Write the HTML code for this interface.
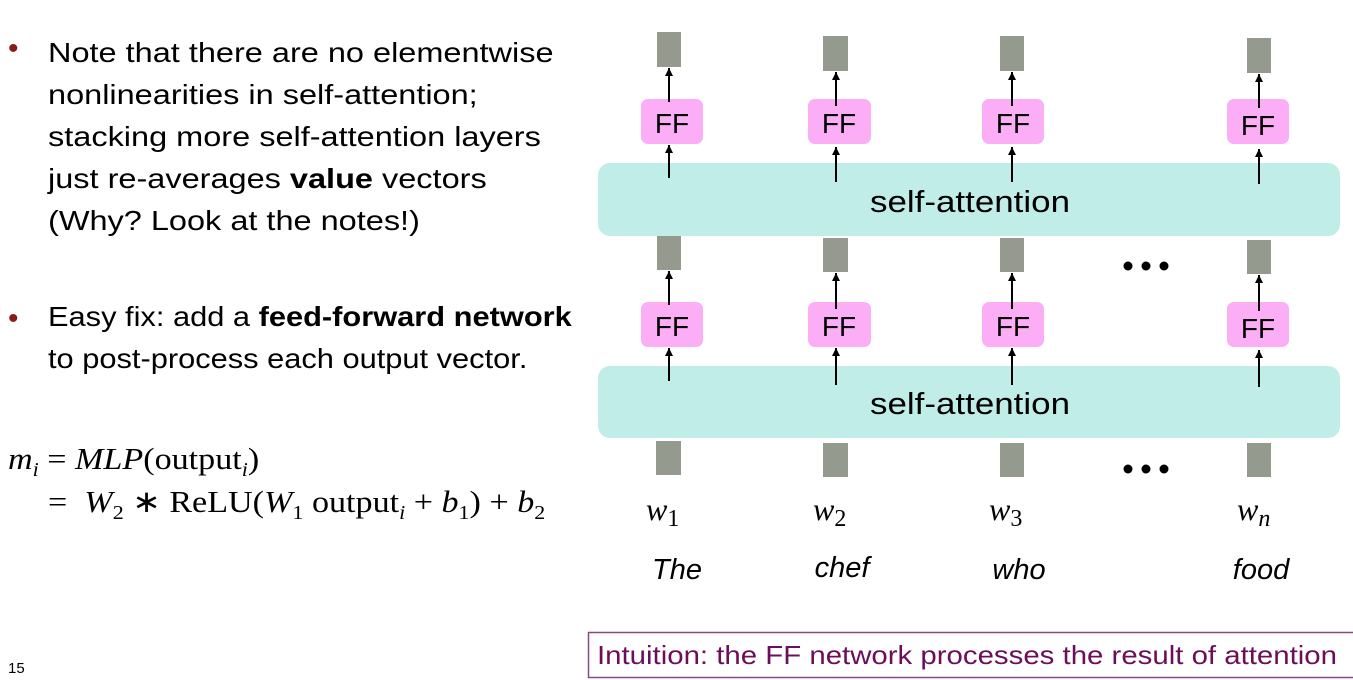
<!DOCTYPE html>
<html><head><meta charset="utf-8"><style>
body{margin:0;width:1353px;height:680px;background:#fff;position:relative;overflow:hidden;font-family:"Liberation Sans",sans-serif}
.t{position:absolute;font-size:28px;line-height:42px;color:#000;white-space:nowrap;transform:scaleX(1.16);transform-origin:0 0}
.b{position:absolute;color:#8b1a1a;font-size:30px}
.m{position:absolute;font-family:"Liberation Serif",serif;font-size:31px;white-space:nowrap;transform:scaleX(1.1);transform-origin:0 0}
</style></head><body>
<div class="b" style="left:8px;top:32px">•</div>
<div class="t" style="left:48px;top:32px">Note that there are no elementwise<br>nonlinearities in self-attention;<br>stacking more self-attention layers<br>just re-averages <b>value</b> vectors<br>(Why? Look at the notes!)</div>
<div class="b" style="left:8px;top:302px">•</div>
<div class="t" style="left:48px;top:296px;transform:scaleX(1.1)">Easy fix: add a <b>feed-forward network</b><br>to post-process each output vector.</div>
<div class="m" style="left:8px;top:441px"><i>m<sub style="font-size:20px">i</sub></i> = <i>MLP</i>(output<sub style="font-size:20px"><i>i</i></sub>)</div>
<div class="m" style="left:48px;top:484px">= &nbsp;<i>W</i><sub style="font-size:20px">2</sub> ∗ ReLU(<i>W</i><sub style="font-size:20px">1</sub> output<sub style="font-size:20px"><i>i</i></sub> + <i>b</i><sub style="font-size:20px">1</sub>) + <i>b</i><sub style="font-size:20px">2</sub></div>
<div style="position:absolute;left:8px;top:660px;font-size:15px">15</div>
<svg width="1353" height="680" style="position:absolute;left:0;top:0">
<defs><marker id="h" viewBox="0 0 10 10" refX="10" refY="5" markerWidth="4" markerHeight="4" orient="auto"><path d="M0,0L10,5L0,10z" fill="#000"/></marker></defs>
<rect x="598" y="163" width="742" height="73" rx="12" fill="#c1ede8"/>
<rect x="598" y="366" width="742" height="72" rx="12" fill="#c1ede8"/>
<text x="970" y="212" font-size="31" text-anchor="middle" font-family="Liberation Sans" textLength="200" lengthAdjust="spacingAndGlyphs">self-attention</text>
<text x="970" y="414" font-size="31" text-anchor="middle" font-family="Liberation Sans" textLength="200" lengthAdjust="spacingAndGlyphs">self-attention</text>
<g fill="#949a8e">
<rect x="657" y="32" width="24" height="35"/><rect x="823" y="36" width="25" height="35"/><rect x="1000" y="36" width="24" height="35"/><rect x="1247" y="38" width="24" height="35"/>
<rect x="657" y="236" width="24" height="34"/><rect x="823" y="238" width="25" height="34"/><rect x="1000" y="238" width="24" height="34"/><rect x="1247" y="240" width="24" height="34"/>
<rect x="656" y="441" width="25" height="34"/><rect x="823" y="443" width="25" height="34"/><rect x="1000" y="443" width="24" height="34"/><rect x="1247" y="443" width="24" height="34"/>
</g>
<g fill="#fbaef6">
<rect x="641" y="99" width="62" height="45" rx="7"/><rect x="808" y="99" width="63" height="45" rx="7"/><rect x="982" y="99" width="62" height="45" rx="7"/><rect x="1227" y="99" width="62" height="45" rx="7"/>
<rect x="641" y="302" width="62" height="45" rx="7"/><rect x="808" y="302" width="63" height="45" rx="7"/><rect x="982" y="302" width="62" height="45" rx="7"/><rect x="1227" y="302" width="62" height="45" rx="7"/>
</g>
<g font-size="28" text-anchor="middle" font-family="Liberation Sans">
<text x="672" y="133">FF</text><text x="839" y="133">FF</text><text x="1013" y="133">FF</text><text x="1258" y="135">FF</text>
<text x="672" y="336">FF</text><text x="839" y="336">FF</text><text x="1013" y="336">FF</text><text x="1258" y="338">FF</text>
</g>
<g stroke="#000" stroke-width="2" marker-end="url(#h)">
<line x1="669" y1="102" x2="669" y2="68"/><line x1="836" y1="106" x2="836" y2="72"/><line x1="1012" y1="106" x2="1012" y2="72"/><line x1="1259" y1="108" x2="1259" y2="74"/>
<line x1="669" y1="178" x2="669" y2="145"/><line x1="836" y1="182" x2="836" y2="147"/><line x1="1012" y1="182" x2="1012" y2="147"/><line x1="1259" y1="184" x2="1259" y2="149"/>
<line x1="669" y1="305" x2="669" y2="271"/><line x1="836" y1="309" x2="836" y2="273"/><line x1="1012" y1="309" x2="1012" y2="273"/><line x1="1259" y1="311" x2="1259" y2="275"/>
<line x1="669" y1="381" x2="669" y2="348"/><line x1="836" y1="385" x2="836" y2="348"/><line x1="1012" y1="385" x2="1012" y2="348"/><line x1="1259" y1="387" x2="1259" y2="350"/>
</g>
<g fill="#000"><circle cx="1128" cy="266" r="4.5"/><circle cx="1146" cy="266" r="4.5"/><circle cx="1164" cy="266" r="4.5"/>
<circle cx="1128" cy="469" r="4.5"/><circle cx="1146" cy="469" r="4.5"/><circle cx="1164" cy="469" r="4.5"/></g>
<g font-family="Liberation Serif" font-size="32" font-style="italic">
<text x="646" y="520">w<tspan font-style="normal" font-size="24" dy="6">1</tspan></text>
<text x="813" y="520">w<tspan font-style="normal" font-size="24" dy="6">2</tspan></text>
<text x="989" y="520">w<tspan font-style="normal" font-size="24" dy="6">3</tspan></text>
<text x="1237" y="520">w<tspan font-size="24" dy="6">n</tspan></text>
</g>
<g font-family="Liberation Sans" font-size="29" font-style="italic" text-anchor="middle">
<text x="677" y="579">The</text><text x="842" y="577">chef</text><text x="1019" y="579">who</text><text x="1261" y="579">food</text>
</g>
<rect x="588.5" y="632.5" width="780" height="45" fill="none" stroke="#8a4a80" stroke-width="1.5"/>
<text x="597" y="664" font-family="Liberation Sans" font-size="26" fill="#6b0f5a" textLength="740" lengthAdjust="spacingAndGlyphs">Intuition: the FF network processes the result of attention</text>
</svg>
</body></html>
